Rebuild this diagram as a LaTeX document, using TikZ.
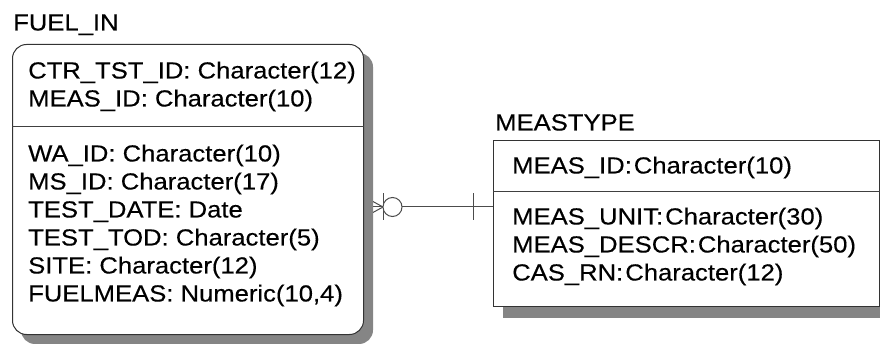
\documentclass[tikz,border=0pt]{standalone}
\usepackage{fontspec}
\setmainfont{Liberation Sans}[FakeStretch=1.1,FakeBold=0.3]
\pgfdeclarelayer{conn}
\pgfdeclarelayer{shad}
\pgfsetlayers{conn,shad,main}
\begin{document}
\begin{tikzpicture}[x=1pt,y=-1pt,
  txt/.style={anchor=base west, inner sep=0pt, font=\fontsize{23.3}{28}\selectfont},
  entity/.style={draw=black!80, line width=1pt, fill=white, anchor=north west, inner sep=0pt},
  shadowfill/.style={fill=black!48},
  rel/.style={draw=black!70, line width=1pt}]
\useasboundingbox (0,0) rectangle (880,344);
% entities
\node[entity, rounded corners=14pt, minimum width=351pt, minimum height=290pt] (fuel) at (12,44) {};
\node[entity, minimum width=386pt, minimum height=166pt] (meas) at (493,140) {};
\begin{pgfonlayer}{shad}
\fill[shadowfill, rounded corners=14pt] ([shift={(9,9)}]fuel.north west) rectangle ([shift={(9,9)}]fuel.south east);
\fill[shadowfill] ([shift={(10,11)}]meas.north west) rectangle ([shift={(10,11)}]meas.south east);
\end{pgfonlayer}
\draw[black!75, line width=1pt] ([yshift=-83pt]fuel.north west) -- ([yshift=-83pt]fuel.north east);
\draw[black!75, line width=1pt] ([yshift=-52pt]meas.north west) -- ([yshift=-52pt]meas.north east);
% titles
\node[txt] (t1) at (13,30.5) {FUEL\_IN};
\node[txt] (t2) at (495,130.5) {MEASTYPE};
% FUEL_IN attributes
\node[txt] (a1) at (28,78.5) {CTR\_TST\_ID: Character(12)};
\node[txt] (a2) at (28,106.5) {MEAS\_ID: Character(10)};
\node[txt] (a3) at (28,161.5) {WA\_ID: Character(10)};
\node[txt] (a4) at (28,189.5) {MS\_ID: Character(17)};
\node[txt] (a5) at (28,217.5) {TEST\_DATE: Date};
\node[txt] (a6) at (28,245.5) {TEST\_TOD: Character(5)};
\node[txt] (a7) at (28,273.5) {SITE: Character(12)};
\node[txt] (a8) at (28,301.5) {FUELMEAS: Numeric(10,4)};
% MEASTYPE attributes
\node[txt] (b1) at (512,173.5) {MEAS\_ID:\hspace{2pt}Character(10)};
\node[txt] (b2) at (512,224.5) {MEAS\_UNIT:\hspace{2pt}Character(30)};
\node[txt] (b3) at (512,252.5) {MEAS\_DESCR:\hspace{2pt}Character(50)};
\node[txt] (b4) at (512,280.5) {CAS\_RN:\hspace{2pt}Character(12)};
% relationship
\coordinate (rowy) at (0,207);
\coordinate (crowtip) at (383,207);
\coordinate (ocirc) at (392.5,207);
\coordinate (bar2) at (473,207);
\begin{pgfonlayer}{conn}
\draw[rel] (fuel.east |- rowy) -- (meas.west |- rowy);
\draw[rel] ([shift={(-11,-6)}]crowtip) -- (crowtip) -- ([shift={(-11,6)}]crowtip);
\end{pgfonlayer}
\draw[rel] ([yshift=13.5pt]crowtip) -- ([yshift=-13.5pt]crowtip);
\draw[rel, fill=white] (ocirc) circle[radius=9.5pt];
\draw[rel] ([yshift=13.5pt]bar2) -- ([yshift=-13.5pt]bar2);
\end{tikzpicture}
\end{document}
